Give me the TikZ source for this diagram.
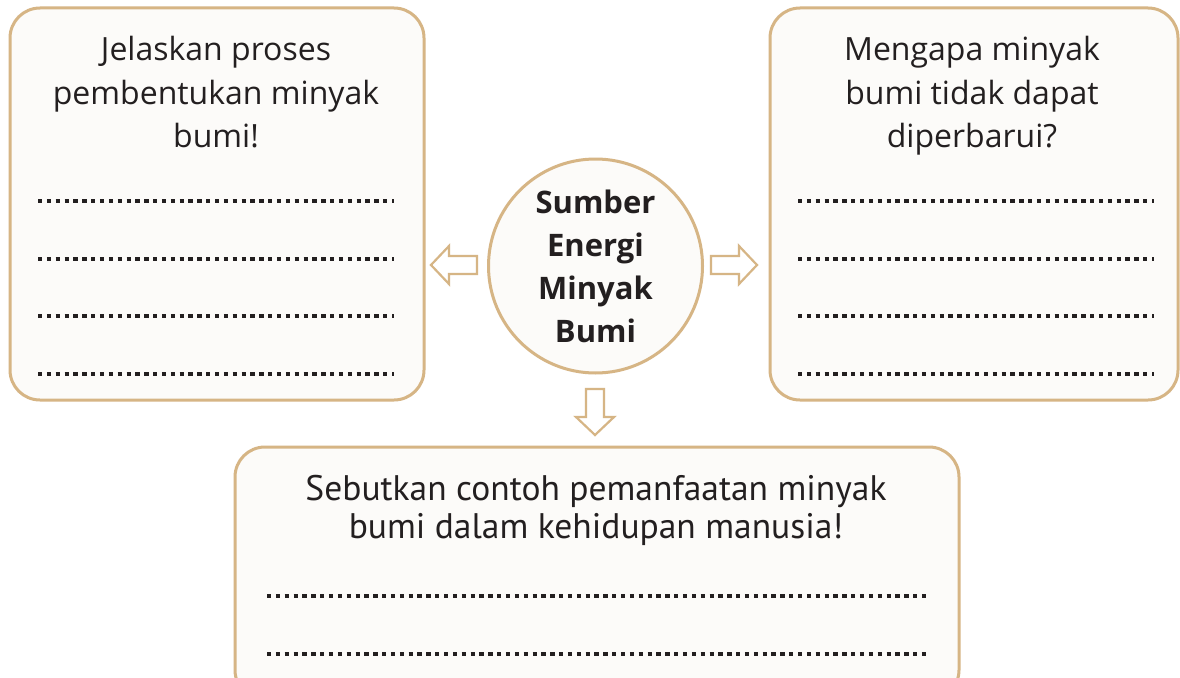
\documentclass[tikz,border=0pt]{standalone}
\usepackage{fontspec}
\setmainfont{Open Sans}
\newfontfamily\narrowfont{PT Sans}
\definecolor{tan}{RGB}{214,181,133}
\definecolor{paper}{RGB}{252,251,249}
\definecolor{ink}{RGB}{35,31,32}
\begin{document}
\begin{tikzpicture}[x=1pt,y=-1pt,
  card/.style={draw=tan,line width=3pt,fill=paper,rounded corners=30pt},
  qtext/.style={text=ink,font=\fontsize{32}{43.5}\selectfont,align=center,inner sep=0pt},
  btext/.style={text=ink,font=\narrowfont\fontsize{35.5}{38}\selectfont,align=center,inner sep=0pt},
  hub/.style={circle,draw=tan,line width=3pt,fill=paper,minimum size=214pt,inner sep=0pt,
    text=ink,font=\bfseries\fontsize{31}{43}\selectfont,align=center},
  fat/.style={draw=tan,line width=2.2pt,fill=white,line join=miter},
  dotline/.style={draw=ink,line width=4.3pt,dash pattern=on 4.3pt off 4.55pt}]
\useasboundingbox (0,0) rectangle (1180,677);
\fill[white] (0,0) rectangle (1180,677);
% cards
\draw[card] (10,8) rectangle (424,400);
\draw[card] (770,8) rectangle (1178,400);
\draw[card] (235,447) rectangle (959,700);
% hub
\node[hub] (hub) at (595.5,266) {Sumber\\Energi\\Minyak\\Bumi};
% questions
\node[qtext,anchor=north] (q1) at (216,36) {Jelaskan proses\\pembentukan minyak\\bumi!};
\node[qtext,anchor=north] (q2) at (972,36) {Mengapa minyak\\bumi tidak dapat\\diperbarui?};
\node[btext,anchor=north] (q3) at (596,475) {Sebutkan contoh pemanfaatan minyak\\bumi dalam kehidupan manusia!};
% dotted answer lines
\foreach \yy in {201,259,316,374}{
  \coordinate (la\yy) at (38,\yy); \coordinate (lb\yy) at (394,\yy);
  \draw[dotline] (la\yy) -- (lb\yy);
  \coordinate (ra\yy) at (798,\yy); \coordinate (rb\yy) at (1154,\yy);
  \draw[dotline] (ra\yy) -- (rb\yy);}
\foreach \yy in {596,654}{
  \coordinate (ba\yy) at (267,\yy); \coordinate (bb\yy) at (927,\yy);
  \draw[dotline] (ba\yy) -- (bb\yy);}
% block arrows
\draw[fat] (477,256) -- (449,256) -- (449,246) -- (431,265) -- (449,284) -- (449,274) -- (477,274) -- cycle;
\draw[fat] (711,256) -- (739,256) -- (739,246) -- (757,265) -- (739,284) -- (739,274) -- (711,274) -- cycle;
\draw[fat] (586,389) -- (586,417) -- (576,417) -- (595,435) -- (614,417) -- (604,417) -- (604,389) -- cycle;
\end{tikzpicture}
\end{document}
